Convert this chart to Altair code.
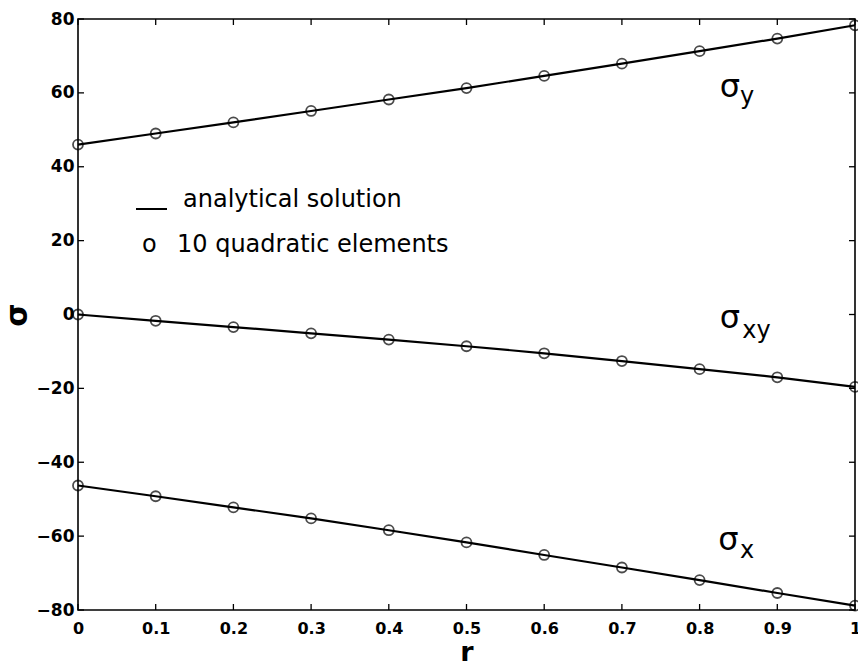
import altair as alt
import pandas as pd

# ---- data ----
r_vals = [0.0, 0.1, 0.2, 0.3, 0.4, 0.5, 0.6, 0.7, 0.8, 0.9, 1.0]
sigma_y = [46.0, 49.0, 52.0, 55.1, 58.2, 61.3, 64.6, 67.9, 71.3, 74.7, 78.3]
sigma_xy = [0.0, -1.7, -3.4, -5.1, -6.8, -8.6, -10.5, -12.6, -14.8, -17.0, -19.6]
sigma_x = [-46.3, -49.2, -52.2, -55.2, -58.4, -61.7, -65.1, -68.5, -71.9, -75.4, -78.8]

x_ticks = [0.0, 0.1, 0.2, 0.3, 0.4, 0.5, 0.6, 0.7, 0.8, 0.9, 1.0]
y_ticks = [-80, -60, -40, -20, 0, 20, 40, 60, 80]

series_names = ["sigma_y", "sigma_xy", "sigma_x"]
series_vals = [sigma_y, sigma_xy, sigma_x]

rows = []
for name, vals in zip(series_names, series_vals):
    for r, v in zip(r_vals, vals):
        rows.append({"series": name, "r": r, "s": v})
df = pd.DataFrame(rows)
xt = pd.DataFrame({"t": x_ticks})
yt = pd.DataFrame({"t": y_ticks})

W, H = 777, 591
FONT = "DejaVu Sans"

xscale = alt.Scale(domain=[0, 1], nice=False, zero=False)
yscale = alt.Scale(domain=[-80, 80], nice=False, zero=False)

base = alt.Chart(df)

lines = base.mark_line(color="black", strokeWidth=2.2).encode(
    x=alt.X("r:Q", scale=xscale,
            axis=alt.Axis(values=x_ticks, format="~g", title="r", ticks=False, domain=False, grid=False,
                          labelFont=FONT, labelFontWeight="bold", labelFontSize=16, labelColor="black",
                          labelPadding=10, titleFont=FONT, titleFontSize=27, titleFontWeight="bold",
                          titleColor="black", titlePadding=3, labelFlush=False)),
    y=alt.Y("s:Q", scale=yscale,
            axis=alt.Axis(values=y_ticks, title="σ", ticks=False, domain=False, grid=False,
                          labelFont=FONT, labelFontWeight="bold", labelFontSize=17, labelColor="black",
                          labelPadding=4, titleFont=FONT, titleFontSize=30, titleFontWeight="bold",
                          titleColor="black", titlePadding=4)),
    detail="series:N",
)

points = base.mark_point(shape="circle", filled=False, color="black", size=100, strokeWidth=1.8).encode(
    x=alt.X("r:Q", scale=xscale),
    y=alt.Y("s:Q", scale=yscale),
)

# inward ticks on all four sides
xb = alt.Chart(xt).mark_rule(color="black", strokeWidth=1.3).encode(
    x=alt.X("t:Q", scale=xscale), y=alt.value(H), y2=alt.value(H - 6))
xtp = alt.Chart(xt).mark_rule(color="black", strokeWidth=1.3).encode(
    x=alt.X("t:Q", scale=xscale), y=alt.value(0), y2=alt.value(6))
yl = alt.Chart(yt).mark_rule(color="black", strokeWidth=1.3).encode(
    y=alt.Y("t:Q", scale=yscale), x=alt.value(0), x2=alt.value(6))
yr = alt.Chart(yt).mark_rule(color="black", strokeWidth=1.3).encode(
    y=alt.Y("t:Q", scale=yscale), x=alt.value(W), x2=alt.value(W - 6))

# series labels
def sig_label(main_r, main_s, sub_text, sub_r, sub_s):
    m = alt.Chart(pd.DataFrame({"a": [0]})).mark_text(
        text="σ", font=FONT, fontSize=32, align="left", baseline="alphabetic", color="black"
    ).encode(x=alt.datum(main_r, scale=xscale), y=alt.datum(main_s, scale=yscale))
    s = alt.Chart(pd.DataFrame({"a": [0]})).mark_text(
        text=sub_text, font=FONT, fontSize=24, align="left", baseline="alphabetic", color="black"
    ).encode(x=alt.datum(sub_r, scale=xscale), y=alt.datum(sub_s, scale=yscale))
    return m + s

lab_y = sig_label(0.826, 58.9, "y", 0.852, 57.0)
lab_xy = sig_label(0.826, -3.7, "xy", 0.855, -6.4)
lab_x = sig_label(0.824, -63.8, "x", 0.852, -66.0)

# legend
one = pd.DataFrame({"a": [0]})
leg_line = alt.Chart(one).mark_rule(color="black", strokeWidth=2).encode(
    x=alt.value(58), x2=alt.value(89), y=alt.value(190))
leg_t1 = alt.Chart(one).mark_text(text="analytical solution", font=FONT, fontSize=24,
                                  align="left", baseline="alphabetic", color="black").encode(
    x=alt.value(105), y=alt.value(188))
leg_o = alt.Chart(one).mark_text(text="o", font=FONT, fontSize=24,
                                 align="left", baseline="alphabetic", color="black").encode(
    x=alt.value(64), y=alt.value(233))
leg_t2 = alt.Chart(one).mark_text(text="10 quadratic elements", font=FONT, fontSize=24,
                                  align="left", baseline="alphabetic", color="black").encode(
    x=alt.value(99), y=alt.value(233))

chart = alt.layer(
    lines, points, xb, xtp, yl, yr, lab_y, lab_xy, lab_x, leg_line, leg_t1, leg_o, leg_t2
).properties(
    width=W, height=H,
    autosize=alt.AutoSizeParams(type="none"),
    padding={"left": 78, "top": 19, "right": 3, "bottom": 57},
    background="white",
).configure_view(stroke="black", strokeWidth=1.6)

chart.save("out.html", embed_options={"renderer": "svg", "actions": False})
